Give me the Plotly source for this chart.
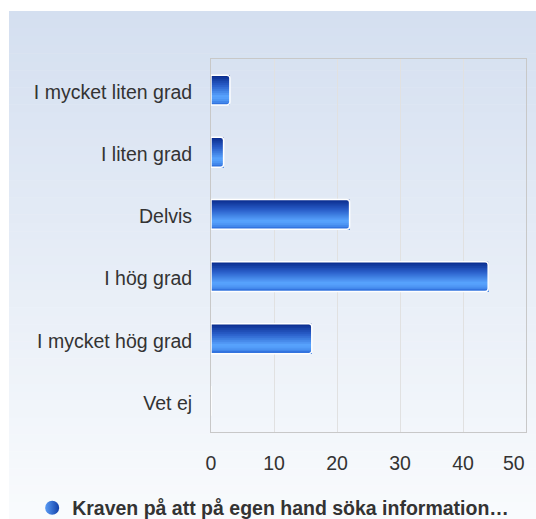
import plotly.graph_objects as go

categories = ["I mycket liten grad", "I liten grad", "Delvis", "I hög grad",
              "I mycket hög grad", "Vet ej"]
values = [3, 2, 22, 44, 16, 0]
x_ticks = [0, 10, 20, 30, 40, 50]
series_name = "Kraven på att på egen hand söka information…"

W, H = 536, 519
L, R, T, B = 211, 10, 59, 87
pw, ph = W - L - R, H - T - B


def hex2rgb(h):
    h = h.lstrip("#")
    return tuple(int(h[i:i + 2], 16) for i in (0, 2, 4))


def interp(stops, f):
    for (f0, c0), (f1, c1) in zip(stops, stops[1:]):
        if f0 <= f <= f1:
            t = 0 if f1 == f0 else (f - f0) / (f1 - f0)
            a, b = hex2rgb(c0), hex2rgb(c1)
            return "rgb(%d,%d,%d)" % tuple(round(a[i] + (b[i] - a[i]) * t) for i in range(3))
    return stops[-1][1]


fig = go.Figure()

# bar gradient: each stripe runs from its start to the bar bottom, later ones on top
bar_w = 0.48
n = 15
sw = bar_w / n
bar_stops = [(0, "#08298a"), (0.35, "#2a5fca"), (0.72, "#5aa6ff"),
             (0.86, "#4b92f2"), (1, "#2c6bd9")]
for i in range(n):
    col = interp(bar_stops, (i + 0.5) / n)
    fig.add_trace(go.Bar(
        y=categories, x=values, orientation="h",
        width=bar_w - i * sw, offset=-bar_w / 2 + i * sw,
        marker=dict(color=col, line=dict(width=0)),
        showlegend=False, hoverinfo="skip"))

# white outline
fig.add_trace(go.Bar(
    y=categories, x=values, orientation="h",
    width=bar_w, offset=-bar_w / 2,
    marker=dict(color="rgba(0,0,0,0)", line=dict(color="white", width=1.5),
                cornerradius=3),
    showlegend=False, hoverinfo="skip"))

# legend entry
fig.add_trace(go.Scatter(
    x=[None], y=[None], mode="markers", name=series_name,
    marker=dict(symbol="circle", size=14, color="#5a9cf5",
                gradient=dict(type="horizontal", color="#123fa8"),
                line=dict(width=0))))

# background panel gradient
bg_stops = [(0, "#d4dff0"), (1, "#f9fbfd")]
py_top, py_bot = 11, 519
px_l, px_r = 9, 536
ns = 60
for i in range(ns):
    y0p = py_top + (py_bot - py_top) * i / ns
    y1p = py_top + (py_bot - py_top) * (i + 1) / ns + 0.5
    fig.add_shape(type="rect", xref="paper", yref="paper", layer="below",
                  x0=(px_l - L) / pw, x1=(px_r - L) / pw,
                  y0=(H - B - y1p) / ph, y1=(H - B - y0p) / ph,
                  line=dict(width=0),
                  fillcolor=interp(bg_stops, (i + 0.5) / ns))

font = "Liberation Sans, Arial, sans-serif"
fs = 19.5
tick_text = [str(v) for v in x_ticks[:-1]] + [""]

# last tick label, kept inside the chart (right-aligned to the plot edge)
fig.add_annotation(x=x_ticks[-1], xref="x", y=0, yref="paper",
                   text=str(x_ticks[-1]), showarrow=False,
                   xanchor="right", yanchor="middle", yshift=-31, xshift=1,
                   font=dict(family=font, size=fs, color="#333333"))

fig.update_layout(
    width=W, height=H,
    margin=dict(l=L, r=R, t=T, b=B),
    paper_bgcolor="white", plot_bgcolor="rgba(0,0,0,0)",
    barmode="overlay",
    font=dict(family=font, size=fs, color="#333333"),
    showlegend=True,
    legend=dict(orientation="h", xref="container", yref="container",
                x=0.06, xanchor="left", y=0.021, yanchor="middle",
                font=dict(family=font, size=fs, color="#333333", weight="bold"),
                bgcolor="rgba(0,0,0,0)"),
    xaxis=dict(range=[0, 50], tickvals=x_ticks, ticktext=tick_text, showgrid=True,
               gridcolor="#e1e1e1", gridwidth=1, zeroline=False,
               showline=True, linecolor="#c8c8c8", linewidth=1, mirror=True,
               ticks="", ticklabelstandoff=14, tickfont=dict(size=fs, color="#333333"),
               fixedrange=True),
    yaxis=dict(autorange="reversed", showgrid=False, zeroline=False,
               showline=True, linecolor="#c8c8c8", linewidth=1, mirror=True,
               ticks="", ticklabelstandoff=14, ticklabelshift=-2,
               tickfont=dict(size=fs, color="#333333"),
               fixedrange=True),
)

fig.write_html("out.html", config={"displayModeBar": False},
               post_script="document.body.style.margin='0';document.body.style.overflow='hidden';")
